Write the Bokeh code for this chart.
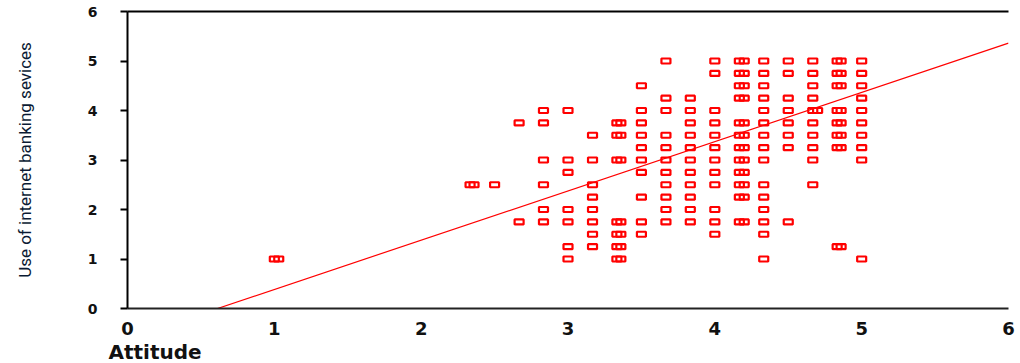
from bokeh.plotting import figure
from bokeh.models import Range1d, LinearAxis, Title, FixedTicker
from bokeh.embed import file_html
from bokeh.resources import INLINE

# ---- data ----
attitude_levels = [1.0, 2.333, 2.5, 2.667, 2.833, 3.0, 3.167, 3.333, 3.5, 3.667,
                   3.833, 4.0, 4.167, 4.333, 4.5, 4.667, 4.833, 5.0]
usage_by_level = [
    [1.0],
    [2.5],
    [2.5],
    [3.75, 1.75],
    [4.0, 3.75, 3.0, 2.5, 2.0, 1.75],
    [4.0, 3.0, 2.75, 2.0, 1.75, 1.25, 1.0],
    [3.5, 3.0, 2.5, 2.25, 2.0, 1.75, 1.5, 1.25],
    [3.75, 3.5, 3.0, 1.75, 1.5, 1.25, 1.0],
    [4.5, 4.0, 3.75, 3.5, 3.25, 3.0, 2.75, 2.25, 1.75, 1.5],
    [5.0, 4.25, 4.0, 3.5, 3.25, 3.0, 2.75, 2.5, 2.25, 2.0, 1.75],
    [4.25, 4.0, 3.75, 3.5, 3.25, 3.0, 2.75, 2.5, 2.25, 2.0, 1.75],
    [5.0, 4.75, 4.0, 3.75, 3.5, 3.25, 3.0, 2.75, 2.5, 2.0, 1.75, 1.5],
    [5.0, 4.75, 4.5, 4.25, 3.75, 3.5, 3.25, 3.0, 2.75, 2.5, 2.25, 1.75],
    [5.0, 4.75, 4.5, 4.25, 4.0, 3.75, 3.5, 3.25, 3.0, 2.5, 2.25, 2.0, 1.75, 1.5, 1.0],
    [5.0, 4.75, 4.25, 4.0, 3.75, 3.5, 3.25, 1.75],
    [5.0, 4.75, 4.5, 4.25, 4.0, 3.75, 3.5, 3.25, 3.0, 2.5],
    [5.0, 4.75, 4.5, 4.0, 3.75, 3.5, 3.25, 1.25],
    [5.0, 4.75, 4.5, 4.25, 4.0, 3.75, 3.5, 3.25, 3.0, 1.0],
]
# second cases drawn just beside others (the wider marks)
overlap_attitude = [1.03, 2.36,
                    3.36, 3.36, 3.36, 3.36, 3.36, 3.36, 3.36,
                    4.20, 4.20, 4.20, 4.20, 4.20, 4.20, 4.20, 4.20, 4.20, 4.20, 4.20, 4.20,
                    4.70,
                    4.86, 4.86, 4.86, 4.86, 4.86, 4.86, 4.86, 4.86]
overlap_usage = [1.0, 2.5,
                 3.75, 3.5, 3.0, 1.75, 1.5, 1.25, 1.0,
                 5.0, 4.75, 4.5, 4.25, 3.75, 3.5, 3.25, 3.0, 2.75, 2.5, 2.25, 1.75,
                 4.0,
                 5.0, 4.75, 4.5, 4.0, 3.75, 3.5, 3.25, 1.25]

fit_intercept = -0.61
fit_slope = 0.995

x_ticks = [0, 1, 2, 3, 4, 5, 6]
y_ticks = [0, 1, 2, 3, 4, 5, 6]

attitude = []
usage = []
for a, us in zip(attitude_levels, usage_by_level):
    for u in us:
        attitude.append(a)
        usage.append(u)
attitude += overlap_attitude
usage += overlap_usage

x_start, x_end = 0, 6
line_x = [-fit_intercept / fit_slope, x_end]
line_y = [fit_intercept + fit_slope * v for v in line_x]

p = figure(width=1018, height=363, output_backend="svg", toolbar_location=None,
           x_range=Range1d(x_start, x_end), y_range=Range1d(0, 6),
           min_border_left=127, min_border_right=10, min_border_top=11,
           min_border_bottom=0)
p.grid.visible = False
p.outline_line_color = None
p.background_fill_color = "white"
p.border_fill_color = "white"

p.line(line_x, line_y, line_color="red", line_width=1.2)
p.rect(attitude, usage, width=9, height=5, width_units="screen",
       height_units="screen", fill_color=None, line_color="red", line_width=2.2)

# axes
xa = p.xaxis[0]
xa.ticker = FixedTicker(ticks=x_ticks)
xa.axis_line_color = "#222222"
xa.axis_line_width = 2
xa.major_tick_line_color = None
xa.minor_tick_line_color = None
xa.major_label_text_font = "DejaVu Sans"
xa.major_label_text_font_style = "bold"
xa.major_label_text_font_size = "18px"
xa.major_label_text_color = "#111111"
xa.major_label_standoff = 7

ya = p.yaxis[0]
ya.ticker = FixedTicker(ticks=y_ticks)
ya.axis_line_color = "black"
ya.axis_line_width = 2
ya.major_tick_line_color = "black"
ya.major_tick_line_width = 2
ya.major_tick_out = 7
ya.major_tick_in = 0
ya.minor_tick_line_color = None
ya.major_label_text_font = "DejaVu Sans"
ya.major_label_text_font_style = "bold"
ya.major_label_text_font_size = "14px"
ya.major_label_text_color = "#111111"
ya.major_label_standoff = 23
ya.axis_label = "Use of internet banking sevices"
ya.axis_label_text_font = "Roboto"
ya.axis_label_text_font_style = "normal"
ya.axis_label_text_font_size = "17px"
ya.axis_label_text_color = "#0a1a33"
ya.axis_label_standoff = 50

top = LinearAxis(ticker=FixedTicker(ticks=[]), axis_line_color="black",
                 axis_line_width=2, major_tick_line_color=None,
                 minor_tick_line_color=None, major_label_text_font_size="0px",
                 major_label_standoff=0)
p.add_layout(top, "above")

p.add_layout(Title(text="Attitude", align="left", offset=-19,
                   text_font="DejaVu Sans", text_font_style="bold",
                   text_font_size="20px", text_color="#111111", standoff=0),
             "below")

open("out.html", "w").write(file_html(p, INLINE))
